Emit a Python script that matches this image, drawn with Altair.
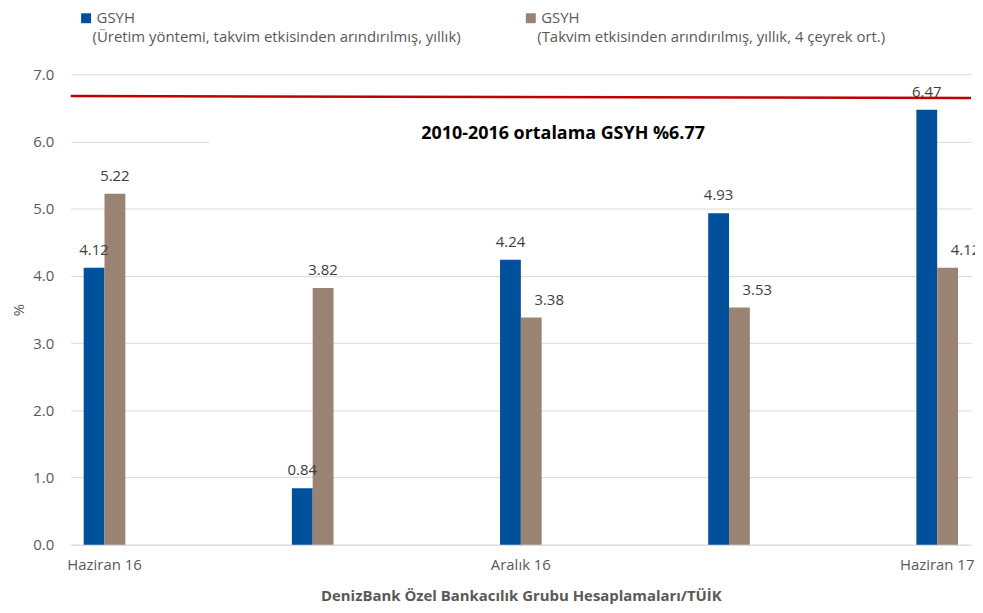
import altair as alt
import pandas as pd

categories = ["Haziran 16", "Eylül 16", "Aralık 16", "Mart 17", "Haziran 17"]
shown_labels = ["Haziran 16", "Aralık 16", "Haziran 17"]
series = [
    "GSYH|(Üretim yöntemi, takvim etkisinden arındırılmış, yıllık)",
    "GSYH|(Takvim etkisinden arındırılmış, yıllık, 4 çeyrek ort.)",
]
uretim = [4.12, 0.84, 4.24, 4.93, 6.47]
takvim = [5.22, 3.82, 3.38, 3.53, 4.12]
colors = ["#00509B", "#9B8374"]
avg_line_start = 6.675
avg_line_end = 6.645
annotation = "2010-2016  ortalama GSYH %6.77"
x_title = "DenizBank Özel Bankacılık  Grubu Hesaplamaları/TÜİK"

rows = []
for c, a, b in zip(categories, uretim, takvim):
    rows.append({"cat": c, "series": series[0], "value": a})
    rows.append({"cat": c, "series": series[1], "value": b})
df = pd.DataFrame(rows)

FONT = "Open Sans"
GRAY = "#595959"
W, H = 905, 473

shown_js = "[" + ",".join("'" + s + "'" for s in shown_labels) + "]"

x_enc = alt.X(
    "cat:N",
    sort=categories,
    scale=alt.Scale(paddingInner=0.80, paddingOuter=0.0625),
    axis=alt.Axis(
        title=x_title,
        grid=False,
        labelAngle=0,
        labelExpr=f"indexof({shown_js}, datum.label) >= 0 ? datum.label : ''",
        ticks=False,
        domainColor="#D9D9D9",
        labelColor=GRAY,
        labelFontSize=15,
        labelFont=FONT,
        labelPadding=13,
        titleFont=FONT,
        titleFontSize=15,
        titleFontWeight="bold",
        titleColor=GRAY,
        titlePadding=16,
    ),
)
y_scale = alt.Scale(domain=[0, 7], nice=False)
y_enc = alt.Y(
    "value:Q",
    scale=y_scale,
    axis=alt.Axis(
        title="%",
        grid=True,
        values=[0, 1, 2, 3, 4, 5, 6, 7],
        format=".1f",
        domain=False,
        ticks=False,
        gridColor="#D9D9D9",
        gridWidth=1,
        labelColor=GRAY,
        labelFontSize=15,
        labelFont=FONT,
        labelPadding=17,
        titleFont=FONT,
        titleFontSize=15,
        titleFontWeight="normal",
        titleColor=GRAY,
        titlePadding=6,
    ),
)

base = alt.Chart(df)

box = alt.Chart(pd.DataFrame({"v": [0]})).mark_rect(color="white").encode(
    x=alt.value(139), x2=alt.value(860),
    y=alt.datum(5.85, scale=y_scale), y2=alt.datum(6.35),
)

bars = base.mark_bar().encode(
    x=x_enc,
    xOffset=alt.XOffset("series:N", sort=series),
    y=y_enc,
    color=alt.Color(
        "series:N",
        sort=series,
        scale=alt.Scale(domain=series, range=colors),
        legend=alt.Legend(
            title=None,
            orient="none",
            legendX=8,
            legendY=-64,
            direction="horizontal",
            symbolType="square",
            symbolSize=100,
            symbolStrokeWidth=0,
            labelExpr="split(datum.label, '|')[0]",
            labelFont=FONT,
            labelFontSize=15,
            labelColor=GRAY,
            labelOffset=3,
            columnPadding=390,
        ),
    ),
)

# labels: a brown label that would sit over the taller blue bar is nudged right (as Excel does)
lab_base = base.transform_joinaggregate(
    maxv="max(value)", groupby=["cat"]
).transform_calculate(
    shifted=f"datum.series == '{series[1]}' && datum.value < datum.maxv"
)
lab_enc = dict(
    x=alt.X("cat:N", sort=categories),
    xOffset=alt.XOffset("series:N", sort=series),
    y="value:Q",
    text=alt.Text("value:Q", format=".2f"),
)
labels_plain = lab_base.transform_filter("!datum.shifted").mark_text(
    baseline="middle", dy=-18, font=FONT, fontSize=15, color="#404040"
).encode(**lab_enc)
labels_shift = lab_base.transform_filter("datum.shifted").mark_text(
    baseline="middle", dy=-18, dx=18, font=FONT, fontSize=15, color="#404040"
).encode(**lab_enc)

avg = alt.Chart(pd.DataFrame({"v": [0]})).mark_rule(color="#C00000", strokeWidth=2.5).encode(
    x=alt.value(0), x2=alt.value(W),
    y=alt.datum(avg_line_start), y2=alt.datum(avg_line_end),
)

note = alt.Chart(pd.DataFrame({"t": [annotation]})).mark_text(
    font=FONT, fontSize=18, fontWeight="bold", color="black"
).encode(
    x=alt.value(495), y=alt.datum(6.11), text="t:N"
)

# second lines of the legend entries
sub1 = alt.Chart(pd.DataFrame({"t": [series[0].split("|")[1]]})).mark_text(
    align="left", baseline="middle", font=FONT, fontSize=15, color=GRAY
).encode(x=alt.value(22), y=alt.value(-37), text="t:N")
sub2 = alt.Chart(pd.DataFrame({"t": [series[1].split("|")[1]]})).mark_text(
    align="left", baseline="middle", font=FONT, fontSize=15, color=GRAY
).encode(x=alt.value(469), y=alt.value(-37), text="t:N")

chart = alt.layer(box, bars, labels_plain, labels_shift, avg, note, sub1, sub2).properties(
    width=W, height=H,
    autosize=alt.AutoSizeParams(type="none"),
    padding={"left": 63, "top": 65, "right": 4, "bottom": 58},
).configure_view(stroke=None)

chart.save("out.html", embed_options={"renderer": "svg", "actions": False})
